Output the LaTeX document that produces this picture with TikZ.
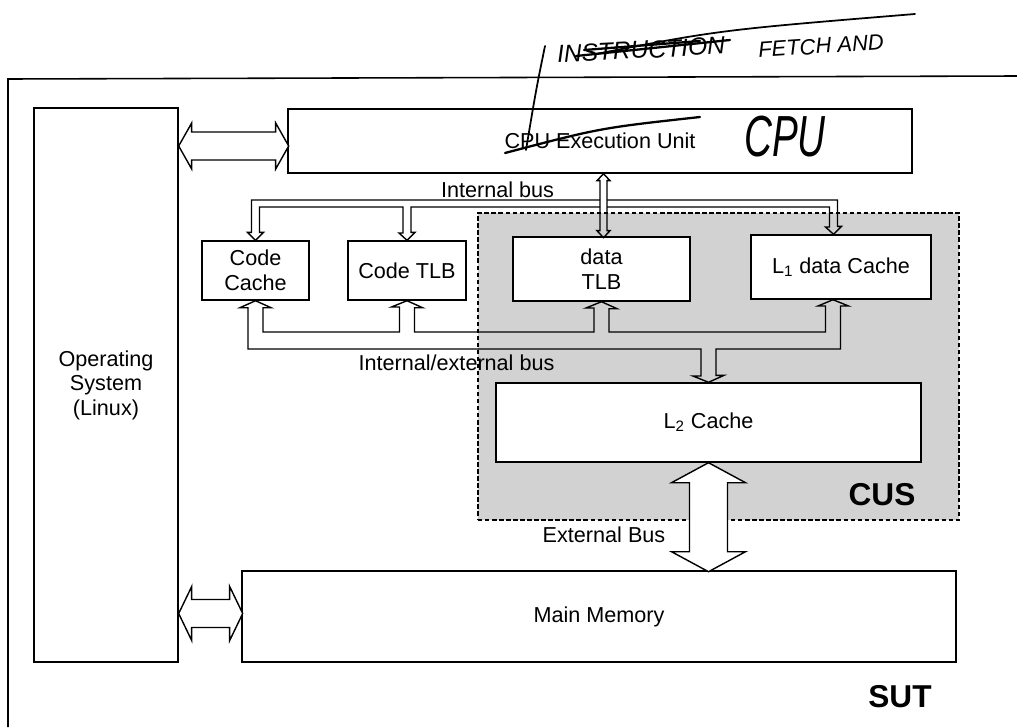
\documentclass[tikz,border=0pt]{standalone}
\usepackage{fontspec}
\setmainfont{Liberation Sans}
\usetikzlibrary{calc}

\definecolor{cusgray}{HTML}{D2D2D2}
\tikzset{
    mh box/.style={draw=black, line width=0.8pt, fill=white, align=center,
                   font=\fontsize{12.3}{14}\selectfont, inner sep=1pt},
    mh cus/.style={draw=black, line width=0.7pt, dash pattern=on 2.5pt off 1.5pt,
                   fill=cusgray},
    mh bus/.style={draw=black, line width=0.8pt, line join=miter},
    mh big/.style={mh bus, fill=white},
    mh lbl/.style={font=\fontsize{12.3}{14}\selectfont},
    mh tag/.style={font=\fontsize{18}{20}\selectfont\bfseries},
    % handwritten notes
    mh hand/.style={font=\itshape\fontsize{14}{16}\selectfont},
    mh ink/.style={line width=1.3pt, line cap=round},
}

\begin{document}
\begin{tikzpicture}[x=0.02cm, y=-0.02cm]
    \useasboundingbox (0,0) rectangle (1017,727);
    % SUT frame
    \draw[line width=0.9pt] (1017,76) -- (8,79) -- (8,727);
    % CUS area
    \node[mh cus, minimum width=9.62cm, minimum height=6.14cm]
        (cus) at (718.5,366.5) {};
    % Blocks
    \node[mh box, minimum width=2.88cm, minimum height=11.08cm]
        (os) at (106,385) {Operating\\System\\(Linux)};
    \node[mh box, minimum width=12.48cm, minimum height=1.28cm]
        (cpu) at (600,141) {CPU Execution Unit};
    \node[mh box, minimum width=2.14cm, minimum height=1.18cm]
        (cc) at (255.5,270.5) {Code\\Cache};
    \node[mh box, minimum width=2.36cm, minimum height=1.18cm]
        (ctlb) at (407,270.5) {Code TLB};
    \node[mh box, minimum width=3.54cm, minimum height=1.28cm]
        (dtlb) at (601.5,269) {data\\TLB};
    \node[mh box, minimum width=3.6cm, minimum height=1.28cm]
        (l1) at (841,267) {L\textsubscript{1} data Cache};
    \node[mh box, minimum width=8.5cm, minimum height=1.58cm]
        (l2) at (708.5,422.5) {L\textsubscript{2} Cache};
    \node[mh box, minimum width=14.28cm, minimum height=1.82cm]
        (mm) at (599,616.5) {Main Memory};
    \coordinate (l1in) at ($(l1.north)+(-7.5,0)$);
    \coordinate (l1out) at ($(l1.south)+(-8,0)$);
    \coordinate (cpuup) at ($(cpu.south)+(3.5,0)$);

    % OS <-> CPU
    \draw[mh big] ($(os.east |- cpu.west)+(0,5)$) -- ++(13,-23) -- ++(0,9)
        -- ++(84,0) -- ++(0,-9) -- ++(13,23) -- ++(-13,23) -- ++(0,-9)
        -- ++(-84,0) -- ++(0,9) -- cycle;
    % OS <-> Main Memory
    \draw[mh big] ($(os.east |- mm.west)+(0,-3)$) -- ++(13,-27) -- ++(0,13)
        -- ++(38,0) -- ++(0,-13) -- ++(13,27) -- ++(-13,27) -- ++(0,-13)
        -- ++(-38,0) -- ++(0,13) -- cycle;
    % External bus
    \draw[mh big] (l2.south) -- ++(37,20) -- ++(-18,0) -- ++(0,69)
        -- ++(18,0) -- ++(-37,20) -- ++(-37,-20) -- ++(18,0)
        -- ++(0,-69) -- ++(-18,0) -- cycle;

    % Internal bus
    \draw[mh bus] (cpuup) -- ++(6.5,7) -- ++(-3,0) -- ++(0,50) -- ++(3,0)
        -- ++(-6.5,7) -- ++(-6.5,-7) -- ++(3,0) -- ++(0,-50) -- ++(-3,0) -- cycle;
    \draw[mh bus] (cc.north) -- ++(-8,-8) -- ++(4,0) |- (600,200);
    \draw[mh bus] (l1in) -- ++(8,-8) -- ++(-4,0) |- (607,200);
    \draw[mh bus] (cc.north) -- ++(8,-8) -- ++(-4,0) |- (403,207)
        -- (403,233) -- ++(-4,0) -- (ctlb.north);
    \draw[mh bus] (ctlb.north) -- ++(8,-8) -- ++(-4,0) |- (600,207);
    \draw[mh bus] (607,207) -| (829.5,227) -- ++(-4,0) -- (l1in);

    % Internal/external bus
    \draw[mh bus] (cc.south) -- ++(-15.5,7) -- ++(8,0) |- (701,349)
        -- (701,376) -- ++(-8,0) -- (l2.north);
    \draw[mh bus] (l2.north) -- ++(15.5,-7) -- ++(-8,0) |- (840.5,349)
        -- (840.5,306) -- ++(8,0) -- (l1out);
    \draw[mh bus] (cc.south) -- ++(15.5,7) -- ++(-8,0) |- (399.5,332)
        -- (399.5,307) -- ++(-8,0) -- (ctlb.south);
    \draw[mh bus] (ctlb.south) -- ++(15.5,7) -- ++(-8,0) |- (594,332)
        -- (594,308) -- ++(-8,0) -- (dtlb.south);
    \draw[mh bus] (dtlb.south) -- ++(15.5,7) -- ++(-8,0) |- (825.5,332)
        -- (825.5,306) -- ++(-7.5,0) -- (l1out);

    % Labels
    \node[mh lbl] (intlbl) at (497.5,190) {Internal bus};
    \node[mh lbl] (ielbl) at (456.5,363) {Internal/external bus};
    \node[mh lbl] (extlbl) at (604,535) {External Bus};
    \node[mh tag] (custag) at (882,495) {CUS};
    \node[mh tag] (suttag) at (900,697) {SUT};

    % Handwritten notes
    \node[mh hand, rotate=3] (hwins) at (641,50) {INSTRUCTION};
    \node[mh hand, font=\itshape\fontsize{12.5}{14}\selectfont, rotate=4]
        (hwfetch) at (821,46) {FETCH AND};
    \node[mh hand, font=\itshape\fontsize{22}{24}\selectfont, yscale=1.5]
        (hwcpu) at (785,137) {CPU};
    \draw[mh ink] (576,56) -- (730,40);
    \draw[mh ink] (584,50) -- (700,41);
    \draw[mh ink, line width=1pt] (596,54) .. controls (720,30) .. (915,14);
    \draw[mh ink] (505,153) .. controls (600,128) .. (700,117);
    \draw[mh ink, line width=1pt] (545,46) .. controls (536,90) .. (526,150);
\end{tikzpicture}
\end{document}
